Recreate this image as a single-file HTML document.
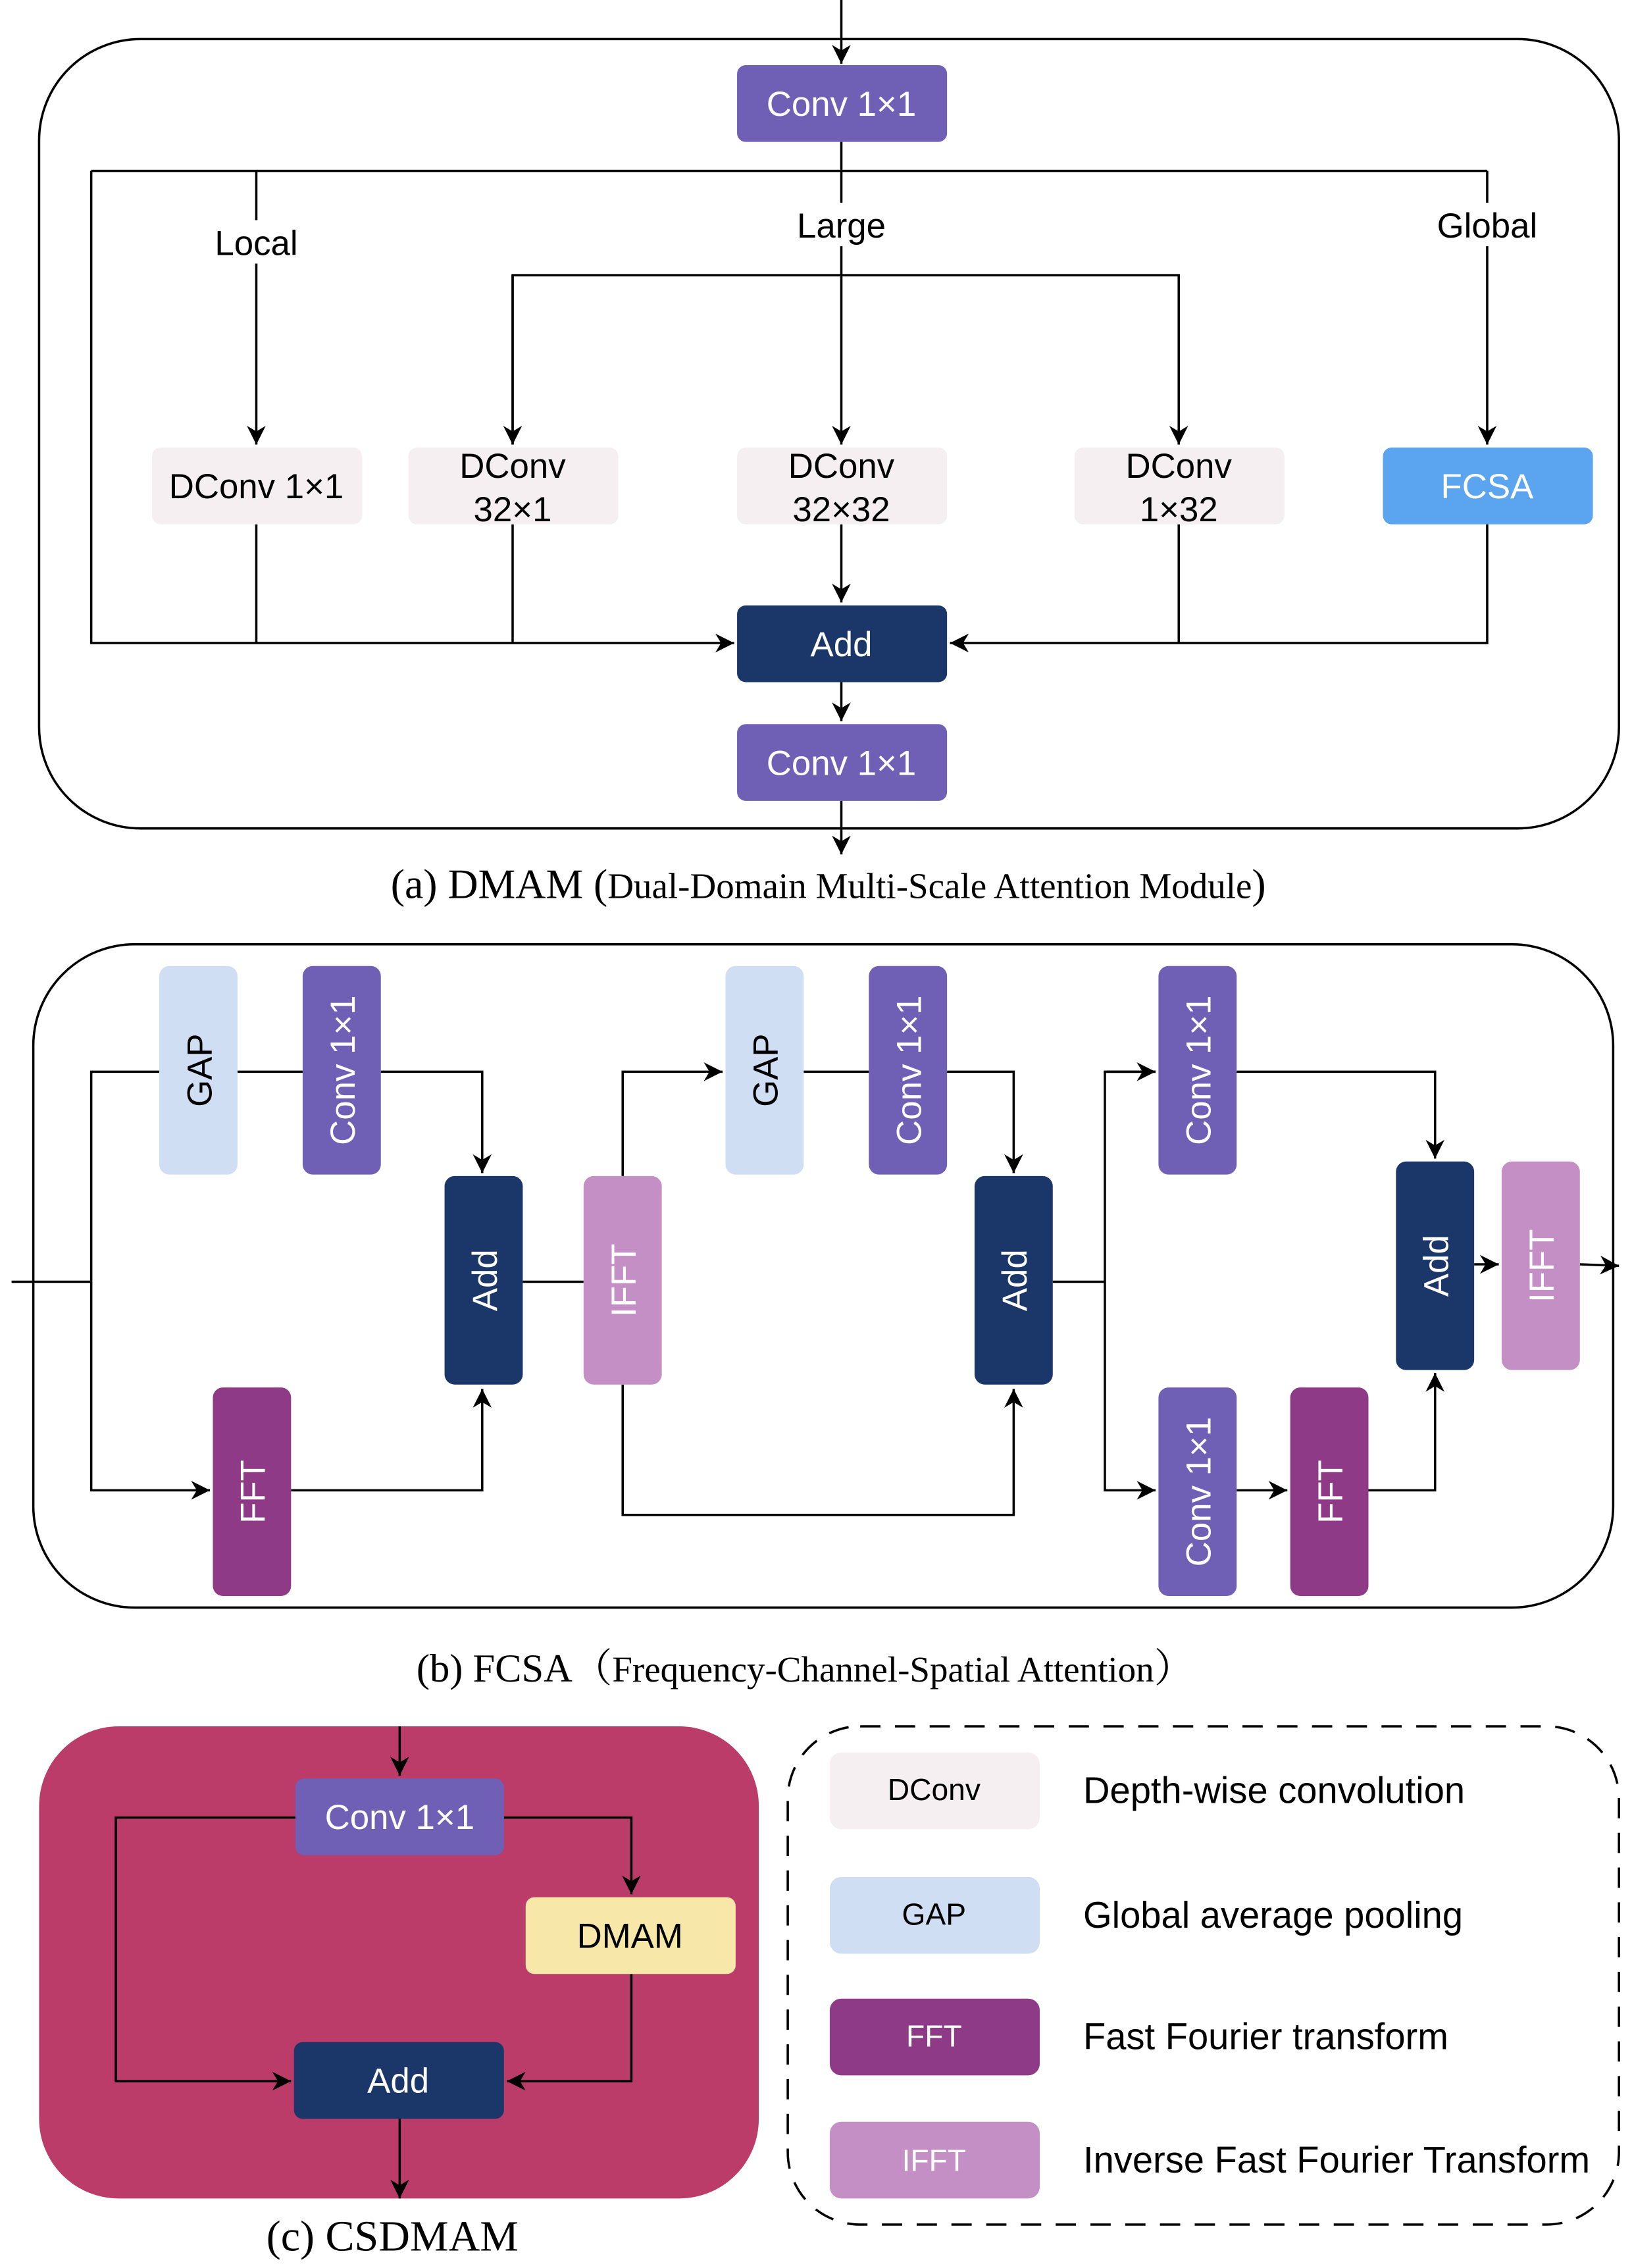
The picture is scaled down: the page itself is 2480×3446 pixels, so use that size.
<!DOCTYPE html>
<html><head><meta charset="utf-8"><style>html,body{margin:0;padding:0;background:#fff}svg{display:block}</style></head><body>
<svg width="2480" height="3446" viewBox="0 0 1127 1566" preserveAspectRatio="none" xmlns="http://www.w3.org/2000/svg" font-family="Liberation Sans, sans-serif">
<defs><marker id="a" viewBox="0 0 10 10" refX="10" refY="5" markerWidth="13" markerHeight="13" markerUnits="userSpaceOnUse" orient="auto"><path d="M0,0 L10,5 L0,10 L3,5 z" fill="#000"/></marker></defs>
<g fill="none" stroke="#000" stroke-width="1.6">
<rect x="27" y="27" width="1091" height="545" rx="70"/>
<line x1="581" y1="0" x2="581" y2="44" marker-end="url(#a)"/>
<polyline points="581,98 581,118"/>
<polyline points="63,118 1027,118"/>
<polyline points="63,118 63,444 507,444" marker-end="url(#a)"/>
<line x1="177" y1="118" x2="177" y2="307" marker-end="url(#a)"/>
<line x1="581" y1="118" x2="581" y2="307" marker-end="url(#a)"/>
<line x1="1027" y1="118" x2="1027" y2="307" marker-end="url(#a)"/>
<polyline points="354,307 354,190 814,190 814,307"/>
<line x1="354" y1="190" x2="354" y2="307" marker-end="url(#a)"/>
<line x1="814" y1="190" x2="814" y2="307" marker-end="url(#a)"/>
<line x1="177" y1="362" x2="177" y2="444"/>
<line x1="354" y1="362" x2="354" y2="444"/>
<line x1="581" y1="362" x2="581" y2="416" marker-end="url(#a)"/>
<line x1="814" y1="362" x2="814" y2="444"/>
<polyline points="1027,362 1027,444 656,444" marker-end="url(#a)"/>
<line x1="581" y1="471" x2="581" y2="498" marker-end="url(#a)"/>
<line x1="581" y1="553" x2="581" y2="590" marker-end="url(#a)"/>
<rect x="23" y="652" width="1091" height="458" rx="70"/>
<line x1="8" y1="885" x2="63" y2="885"/>
<polyline points="110,740 63,740 63,1029 145,1029" marker-end="url(#a)"/>
<line x1="164" y1="740" x2="209" y2="740"/>
<polyline points="263,740 333,740 333,810" marker-end="url(#a)"/>
<polyline points="201,1029 333,1029 333,959" marker-end="url(#a)"/>
<line x1="361" y1="885" x2="403" y2="885"/>
<polyline points="430,812 430,740 499,740" marker-end="url(#a)"/>
<line x1="555" y1="740" x2="600" y2="740"/>
<polyline points="654,740 700,740 700,810" marker-end="url(#a)"/>
<polyline points="430,956 430,1046 700,1046 700,959" marker-end="url(#a)"/>
<line x1="727" y1="885" x2="763" y2="885"/>
<polyline points="798,740 763,740 763,1029 798,1029" marker-end="url(#a)"/>
<line x1="763" y1="740" x2="798" y2="740" marker-end="url(#a)"/>
<polyline points="854,740 991,740 991,800" marker-end="url(#a)"/>
<line x1="854" y1="1029" x2="889" y2="1029" marker-end="url(#a)"/>
<polyline points="945,1029 991,1029 991,948" marker-end="url(#a)"/>
<line x1="1018" y1="873" x2="1035" y2="873" marker-end="url(#a)"/>
<line x1="1091" y1="873" x2="1118" y2="874" marker-end="url(#a)"/>
</g>
<rect x="140" y="152" width="75" height="30" fill="#fff"/>
<rect x="543" y="140" width="76" height="30" fill="#fff"/>
<rect x="985" y="140" width="84" height="30" fill="#fff"/>
<g font-size="24" text-anchor="middle" fill="#000">
<text x="177" y="176">Local</text><text x="581" y="164">Large</text><text x="1027" y="164">Global</text>
</g>
<g font-size="24" text-anchor="middle">
<rect x="509" y="45" width="145" height="53" rx="6" fill="#6f5fb5"/><text x="581" y="80" fill="#fff">Conv 1×1</text>
<rect x="105" y="309" width="145" height="53" rx="6" fill="#f5eff1"/><text x="177" y="344">DConv 1×1</text>
<rect x="282" y="309" width="145" height="53" rx="6" fill="#f5eff1"/><text x="354" y="330">DConv</text><text x="354" y="360">32×1</text>
<rect x="509" y="309" width="145" height="53" rx="6" fill="#f5eff1"/><text x="581" y="330">DConv</text><text x="581" y="360">32×32</text>
<rect x="742" y="309" width="145" height="53" rx="6" fill="#f5eff1"/><text x="814" y="330">DConv</text><text x="814" y="360">1×32</text>
<rect x="955" y="309" width="145" height="53" rx="6" fill="#5ba4ef"/><text x="1027" y="344" fill="#fff">FCSA</text>
<rect x="509" y="418" width="145" height="53" rx="6" fill="#1b376a"/><text x="581" y="453" fill="#fff">Add</text>
<rect x="509" y="500" width="145" height="53" rx="6" fill="#6f5fb5"/><text x="581" y="535" fill="#fff">Conv 1×1</text>
</g>
<text x="572" y="620" font-family="Liberation Serif, serif" font-size="29" text-anchor="middle">(a) DMAM (<tspan font-size="25">Dual-Domain Multi-Scale Attention Module</tspan>)</text>
<g font-size="24" text-anchor="middle">
<rect x="110" y="667" width="54" height="144" rx="7" fill="#cfdef3"/><text transform="translate(146,739) rotate(-90)">GAP</text>
<rect x="209" y="667" width="54" height="144" rx="7" fill="#6f5fb5"/><text transform="translate(245,739) rotate(-90)" fill="#fff">Conv 1×1</text>
<rect x="307" y="812" width="54" height="144" rx="7" fill="#1b376a"/><text transform="translate(343,884) rotate(-90)" fill="#fff">Add</text>
<rect x="147" y="958" width="54" height="144" rx="7" fill="#8e3a86"/><text transform="translate(183,1030) rotate(-90)" fill="#fff">FFT</text>
<rect x="403" y="812" width="54" height="144" rx="7" fill="#c38fc4"/><text transform="translate(439,884) rotate(-90)" fill="#fff">IFFT</text>
<rect x="501" y="667" width="54" height="144" rx="7" fill="#cfdef3"/><text transform="translate(537,739) rotate(-90)">GAP</text>
<rect x="600" y="667" width="54" height="144" rx="7" fill="#6f5fb5"/><text transform="translate(636,739) rotate(-90)" fill="#fff">Conv 1×1</text>
<rect x="673" y="812" width="54" height="144" rx="7" fill="#1b376a"/><text transform="translate(709,884) rotate(-90)" fill="#fff">Add</text>
<rect x="800" y="667" width="54" height="144" rx="7" fill="#6f5fb5"/><text transform="translate(836,739) rotate(-90)" fill="#fff">Conv 1×1</text>
<rect x="800" y="958" width="54" height="144" rx="7" fill="#6f5fb5"/><text transform="translate(836,1030) rotate(-90)" fill="#fff">Conv 1×1</text>
<rect x="891" y="958" width="54" height="144" rx="7" fill="#8e3a86"/><text transform="translate(927,1030) rotate(-90)" fill="#fff">FFT</text>
<rect x="964" y="802" width="54" height="144" rx="7" fill="#1b376a"/><text transform="translate(1000,874) rotate(-90)" fill="#fff">Add</text>
<rect x="1037" y="802" width="54" height="144" rx="7" fill="#c38fc4"/><text transform="translate(1073,874) rotate(-90)" fill="#fff">IFFT</text>
</g>
<text x="556" y="1161" font-family="Liberation Serif, 'Noto Serif CJK SC', serif" font-size="27.5" text-anchor="middle">(b) FCSA（<tspan font-size="25">Frequency-Channel-Spatial Attention</tspan>）</text>
<rect x="27" y="1192" width="497" height="326" rx="55" fill="#bb3c69"/>
<g fill="none" stroke="#000" stroke-width="1.6">
<line x1="276" y1="1192" x2="276" y2="1226" marker-end="url(#a)"/>
<polyline points="204,1255 80,1255 80,1437 201,1437" marker-end="url(#a)"/>
<polyline points="348,1255 436,1255 436,1308" marker-end="url(#a)"/>
<polyline points="436,1363 436,1437 350,1437" marker-end="url(#a)"/>
<line x1="276" y1="1463" x2="276" y2="1518" marker-end="url(#a)"/>
<rect x="544" y="1192" width="574" height="344" rx="50" stroke-dasharray="14,10"/>
</g>
<g font-size="24" text-anchor="middle">
<rect x="204" y="1228" width="144" height="53" rx="6" fill="#6f5fb5"/><text x="276" y="1263" fill="#fff">Conv 1×1</text>
<rect x="363" y="1310" width="145" height="53" rx="6" fill="#f7e7a9"/><text x="435" y="1345">DMAM</text>
<rect x="203" y="1410" width="145" height="53" rx="6" fill="#1b376a"/><text x="275" y="1445" fill="#fff">Add</text>
</g>
<text x="271" y="1554" font-family="Liberation Serif, serif" font-size="30" text-anchor="middle">(c) CSDMAM</text>
<g font-size="21" text-anchor="middle">
<rect x="573" y="1210" width="145" height="53" rx="8" fill="#f5eff1"/><text x="645" y="1243">DConv</text>
<rect x="573" y="1296" width="145" height="53" rx="8" fill="#cfdef3"/><text x="645" y="1329">GAP</text>
<rect x="573" y="1380" width="145" height="53" rx="8" fill="#8e3a86"/><text x="645" y="1413" fill="#fff">FFT</text>
<rect x="573" y="1465" width="145" height="53" rx="8" fill="#c38fc4"/><text x="645" y="1499" fill="#fff">IFFT</text>
</g>
<g font-size="25.5">
<text x="748" y="1245">Depth-wise convolution</text>
<text x="748" y="1331">Global average pooling</text>
<text x="748" y="1415">Fast Fourier transform</text>
<text x="748" y="1500">Inverse Fast Fourier Transform</text>
</g>
</svg>
</body></html>
